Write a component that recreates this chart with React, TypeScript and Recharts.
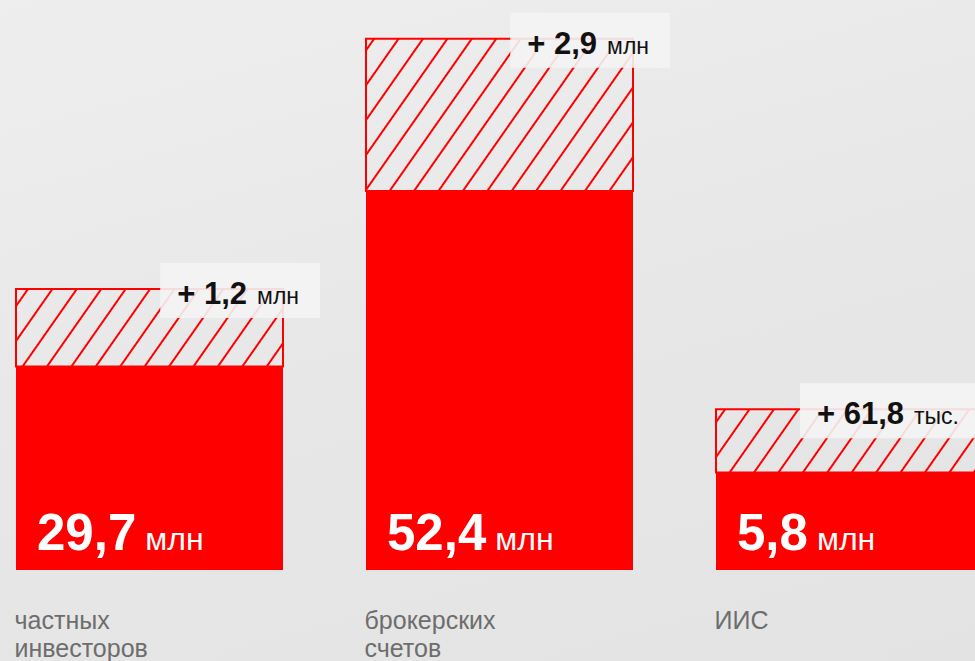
import React from 'react';
import { BarChart, Bar, XAxis, YAxis, LabelList } from 'recharts';

// ---- data ----
const categories = ['частных инвесторов', 'брокерских счетов', 'ИИС'];
const totals = [29.7, 52.4, 5.8];
const totalUnits = ['млн', 'млн', 'млн'];
const increases = [1.2, 2.9, 61.8];
const increaseUnits = ['млн', 'млн', 'тыс.'];
// stylised drawn heights of the two bar parts (0–100 chart scale)
const solidHeights = [35.7, 66.5, 17.1];
const hatchHeights = [13.6, 26.7, 11.1];

const data = categories.map((name, i) => ({
  name,
  solid: solidHeights[i],
  hatch: hatchHeights[i],
}));

// ---- layout / style ----
const VIEW_W = 975;
const VIEW_H = 661;
const SHIFT = 26;
const CHART_W = 1050;
const BAR_SIZE = 267;
const RED = '#fe0000';
const FONT = "'Liberation Sans', Arial, Helvetica, sans-serif";

const fmt = (v: number) => String(v).replace('.', ',');

let ctx: CanvasRenderingContext2D | null = null;
function measure(text: string, font: string): number {
  if (!ctx) ctx = document.createElement('canvas').getContext('2d');
  if (!ctx) return text.length * 14;
  ctx.font = font;
  return ctx.measureText(text).width;
}

const TotalLabel = (props: any) => {
  const x = Number(props.x);
  const y = Number(props.y);
  const h = Number(props.height);
  const i = props.index;
  return (
    <text x={x + 21} y={y + h - 20} fill="#ffffff" fontFamily={FONT}>
      <tspan fontSize={51} fontWeight={700}>{fmt(totals[i])}</tspan>
      <tspan dx={9} fontSize={32}>{totalUnits[i]}</tspan>
    </text>
  );
};

const GrowthLabel = (props: any) => {
  const x = Number(props.x);
  const y = Number(props.y);
  const w = Number(props.width);
  const i = props.index;
  const bold = '+ ' + fmt(increases[i]);
  const unit = increaseUnits[i];
  const gap = 10;
  const bw = measure(bold, `700 31px ${FONT}`);
  const uw = measure(unit, `400 23px ${FONT}`);
  const boxW = bw + gap + uw + 38;
  const right = Math.min(x + w + 37, VIEW_W + SHIFT + 5);
  const left = right - boxW;
  const top = y - 26;
  return (
    <g>
      <rect x={left} y={top} width={boxW} height={55} fill="#f4f4f4" fillOpacity={0.9} />
      <text x={left + 17} y={top + 41} fill="#111111" fontFamily={FONT}>
        <tspan fontSize={31} fontWeight={700}>{bold}</tspan>
        <tspan dx={gap} fontSize={23}>{unit}</tspan>
      </text>
    </g>
  );
};

const CategoryTick = (props: any) => {
  const x = Number(props.x);
  const y = Number(props.y);
  const left = x - BAR_SIZE / 2 - 1;
  const lines = String(props.payload.value).split(' ');
  return (
    <text x={left} y={y + 59} fill="#6d6d6d" fontFamily={FONT} fontSize={25}>
      {lines.map((l, k) => (
        <tspan key={k} x={left} y={y + 59 + k * 28}>
          {l}
        </tspan>
      ))}
    </text>
  );
};

export default function App() {
  return (
    <div
      style={{
        position: 'absolute',
        left: 0,
        top: 0,
        width: VIEW_W,
        height: VIEW_H,
        overflow: 'hidden',
        background:
          'linear-gradient(165deg, #eeeeee 0%, #e8e8e8 45%, #e3e3e3 100%)',
      }}
    >
      <div style={{ position: 'absolute', left: -SHIFT, top: 0 }}>
        <BarChart
          width={CHART_W}
          height={VIEW_H}
          data={data}
          margin={{ top: 0, right: 0, bottom: 0, left: 0 }}
          barSize={BAR_SIZE}
        >
          <defs>
            <pattern
              id="hatch"
              patternUnits="userSpaceOnUse"
              width={20}
              height={20}
              patternTransform="rotate(35)"
            >
              <line x1={10} y1={-2} x2={10} y2={22} stroke={RED} strokeWidth={2} />
            </pattern>
          </defs>
          <XAxis
            dataKey="name"
            axisLine={false}
            tickLine={false}
            tickSize={0}
            tickMargin={0}
            height={91}
            interval={0}
            tick={<CategoryTick />}
          />
          <YAxis hide domain={[0, 100]} />
          <Bar dataKey="solid" stackId="a" fill={RED} isAnimationActive={false}>
            <LabelList dataKey="solid" content={<TotalLabel />} />
          </Bar>
          <Bar
            dataKey="hatch"
            stackId="a"
            fill="url(#hatch)"
            stroke={RED}
            strokeWidth={2}
            isAnimationActive={false}
          >
            <LabelList dataKey="hatch" content={<GrowthLabel />} />
          </Bar>
        </BarChart>
      </div>
    </div>
  );
}
